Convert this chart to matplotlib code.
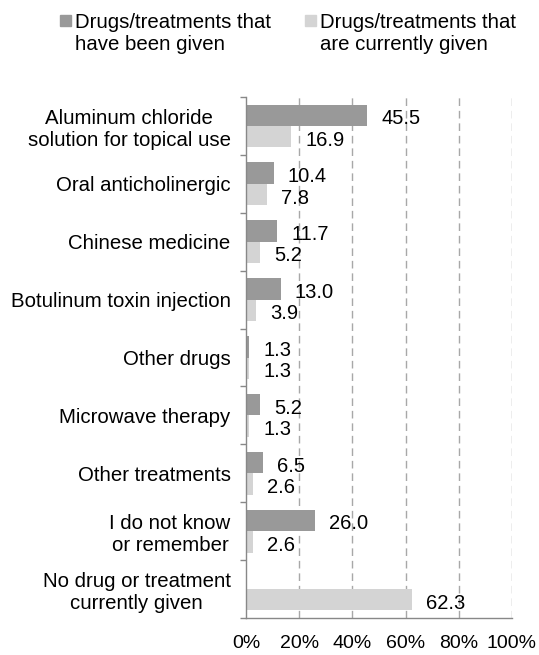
import numpy as np
import matplotlib.pyplot as plt
from matplotlib.patches import Rectangle

plt.rcParams["font.family"] = ["Liberation Sans", "DejaVu Sans"]

CATEGORIES = [
    "Aluminum chloride\nsolution for topical use",
    "Oral anticholinergic",
    "Chinese medicine",
    "Botulinum toxin injection",
    "Other drugs",
    "Microwave therapy",
    "Other treatments",
    "I do not know\nor remember",
    "No drug or treatment\ncurrently given",
]
GIVEN = [45.5, 10.4, 11.7, 13.0, 1.3, 5.2, 6.5, 26.0, None]
CURRENT = [16.9, 7.8, 5.2, 3.9, 1.3, 1.3, 2.6, 2.6, 62.3]
LEGEND_LABELS = ["Drugs/treatments that\nhave been given",
                 "Drugs/treatments that\nare currently given"]
XTICKS = [0, 20, 40, 60, 80, 100]

DARK = "#999999"
LIGHT = "#d4d4d4"
FS = 14.5
W, H = 539, 655

fig = plt.figure(figsize=(W / 100, H / 100), dpi=100)
ax = fig.add_axes([246 / W, 1 - 618 / H, 266 / W, (618 - 97) / H])

n = len(CATEGORIES)
y = np.arange(n)
h = 0.37

for i in range(n):
    g = GIVEN[i]
    c = CURRENT[i]
    if g is not None:
        ax.barh(y[i] - h / 2, g, height=h, color=DARK)
        ax.text(g + 5.3, y[i] - h / 2 + 0.06, f"{g:.1f}", ha="left", va="center", fontsize=FS)
    ax.barh(y[i] + h / 2, c, height=h, color=LIGHT)
    ax.text(c + 5.3, y[i] + h / 2 + 0.06, f"{c:.1f}", ha="left", va="center", fontsize=FS)

ax.set_xlim(0, 100)
ax.set_ylim(n - 0.5, -0.5)
ax.set_xticks(XTICKS)
ax.set_xticklabels([f"{t}%" for t in XTICKS], fontsize=14)
ax.tick_params(axis="x", length=0, pad=12)
ax.set_yticks(y)
ax.set_yticklabels(CATEGORIES, fontsize=14.7, linespacing=1.22, multialignment="center")
ax.set_yticks(np.arange(n + 1) - 0.5, minor=True)
ax.tick_params(axis="y", which="major", length=0, pad=11)
ax.tick_params(axis="y", which="minor", length=4.3, color="#888888", width=1)

for t in XTICKS[1:]:
    ax.axvline(t, color="#a8a8a8", lw=1, ls=(0, (5.5, 3.5)), zorder=0)

for s in ["top", "right"]:
    ax.spines[s].set_visible(False)
for s in ["left", "bottom"]:
    ax.spines[s].set_color("#888888")
    ax.spines[s].set_linewidth(1)

# legend drawn by hand (two columns, square markers)
for sx, col, lab in [(60, DARK, LEGEND_LABELS[0]), (305, LIGHT, LEGEND_LABELS[1])]:
    fig.patches.append(Rectangle((sx / W, 1 - 26 / H), 11 / W, 11 / H,
                                 transform=fig.transFigure, color=col))
    fig.text((sx + 15) / W, 1 - 12.5 / H, lab, ha="left", va="top",
             fontsize=14.7, linespacing=1.2)

fig.savefig("out.png", dpi=100)
